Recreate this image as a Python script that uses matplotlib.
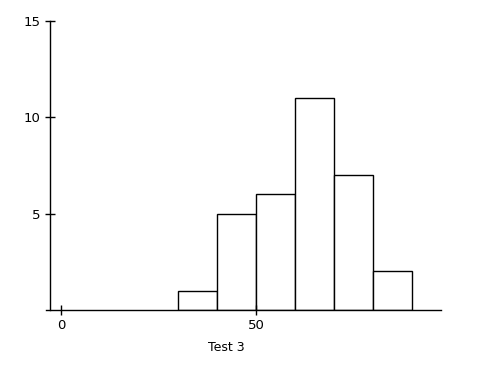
import matplotlib
matplotlib.use("Agg")
import matplotlib.pyplot as plt

bin_edges = [30, 40, 50, 60, 70, 80, 90]
counts = [1, 5, 6, 11, 7, 2]
xticks = [0, 50]
yticks = [5, 10, 15]

fig = plt.figure(figsize=(4.87, 3.66), dpi=100)
ax = fig.add_axes([46/487, 1 - 310/366, 395/487, 289/366])

lefts = bin_edges[:-1]
widths = [b - a for a, b in zip(bin_edges[:-1], bin_edges[1:])]
ax.bar(lefts, counts, width=widths, align='edge', facecolor='white',
       edgecolor='black', linewidth=1.0)

ax.set_xlim(-3.85, 97.4)
ax.set_ylim(0, 15)
ax.set_xticks(xticks)
ax.set_yticks(yticks)
for s in ['top', 'right']:
    ax.spines[s].set_visible(False)
ax.spines['left'].set_position(('axes', 3.5/395))
ax.spines['left'].set_linewidth(1.0)
ax.spines['bottom'].set_linewidth(1.0)
ax.tick_params(direction='inout', length=7, width=1, labelsize=9.5, pad=3)
ax.set_xlabel('Test 3', fontsize=9, labelpad=6)
ax.xaxis.set_label_coords((226-46)/395, -0.108)

fig.savefig('out.png', dpi=100)
